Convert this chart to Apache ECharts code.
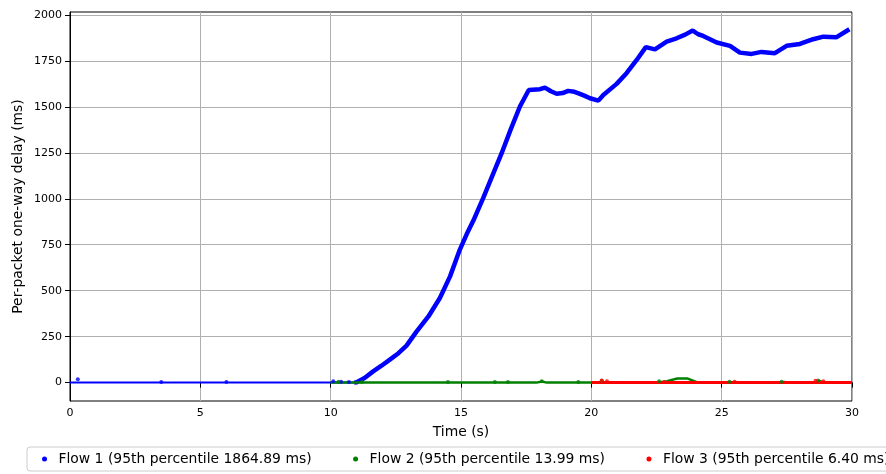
<!DOCTYPE html>
<html lang="en">
<head>
    <meta charset="UTF-8">
    <title>Per-packet one-way delay</title>
    <style>
        html, body { margin: 0; padding: 0; background: #fff; }
        #main { width: 886px; height: 474px; }
    </style>
    <script src="https://cdn.jsdelivr.net/npm/echarts@6/dist/echarts.min.js"></script>
</head>
<body>
<div id="main"></div>
<script type="text/javascript">
    // series names (legend text)
    var flowNames = [
        'Flow 1 (95th percentile 1864.89 ms)',
        'Flow 2 (95th percentile 13.99 ms)',
        'Flow 3 (95th percentile 6.40 ms)'
    ];
    var flowColors = ['#0000ff', '#008000', '#ff0000'];

    // flow 1: idle part, then the delay ramp  [time s, delay ms]
    var flow1Idle = [[0, 0], [10, 0], [10.9, 0]];
    var flow1Ramp = [
        [10.9, 0], [11.0, 2], [11.3, 25], [11.63, 61], [11.95, 92], [12.27, 125],
        [12.6, 160], [12.91, 201], [13.3, 279], [13.75, 360], [14.19, 460],
        [14.58, 578], [14.96, 725], [15.22, 808], [15.47, 880], [15.85, 1004],
        [16.2, 1125], [16.56, 1248], [16.9, 1375], [17.26, 1502], [17.6, 1592],
        [18.03, 1596], [18.22, 1605], [18.45, 1585], [18.67, 1571], [18.9, 1575],
        [19.11, 1587], [19.35, 1582], [19.56, 1571], [19.75, 1560], [19.95, 1547],
        [20.27, 1534], [20.46, 1565], [20.97, 1625], [21.35, 1683], [21.74, 1755],
        [22.09, 1825], [22.44, 1813], [22.89, 1855], [23.27, 1873], [23.6, 1893],
        [23.89, 1915], [24.1, 1895], [24.29, 1886], [24.81, 1850], [25.32, 1832],
        [25.7, 1795], [26.15, 1788], [26.53, 1799], [27.04, 1792], [27.49, 1832],
        [28.0, 1842], [28.51, 1868], [28.9, 1882], [29.41, 1879], [29.9, 1922]
    ];
    var flow1Dots = [[0.3, 18], [3.5, 4], [6.0, 4], [10.1, 8], [10.4, 5], [10.7, 4]];

    // flow 2
    var flow2Line = [
        [10, 0], [17.9, 0], [18.1, 6], [18.3, 0], [22.5, 0], [22.9, 8], [23.3, 22],
        [23.7, 22], [23.95, 8], [24.1, 0], [27.2, 0], [27.4, 4], [27.6, 0],
        [28.6, 0], [28.75, 10], [28.9, 0], [30, 0]
    ];
    var flow2Dots = [[10.3, 5], [11.2, 3], [14.5, 3], [16.3, 4], [16.8, 4], [18.1, 7],
        [19.5, 3], [20.4, 10], [22.6, 8], [25.3, 5], [27.3, 5], [28.7, 12]];

    // flow 3
    var flow3Line = [[20, 0], [30, 0]];
    var flow3Dots = [[20.4, 12], [20.6, 8], [22.8, 4], [25.5, 5], [28.6, 10], [28.9, 8]];

    var yTicks = [0, 250, 500, 750, 1000, 1250, 1500, 1750, 2000];

    var myChart = echarts.init(document.getElementById('main'));

    function lineSeries(name, color, data, width) {
        return {
            name: name, type: 'line', data: data, showSymbol: false,
            lineStyle: {color: color, width: width}, itemStyle: {color: color},
            z: 3
        };
    }
    function dotSeries(name, color, data) {
        return {
            name: name, type: 'scatter', data: data, symbolSize: 4,
            itemStyle: {color: color}, z: 4
        };
    }

    var option = {
        animation: false,
        textStyle: {fontFamily: 'DejaVu Sans'},
        grid: {
            left: 70, right: 34, top: 12, bottom: 73,
            show: true, borderColor: '#000', borderWidth: 1
        },
        legend: {
            left: 27, top: 447, width: 1100,
            padding: [5, 8, 5, 15],
            itemGap: 41.5, itemWidth: 18, itemHeight: 5,
            icon: 'circle',
            borderColor: '#ccc', borderWidth: 1, borderRadius: 3,
            textStyle: {fontSize: 13.9, color: '#000', fontFamily: 'DejaVu Sans'},
            data: flowNames
        },
        xAxis: {
            type: 'value', min: 0, max: 30, interval: 5,
            name: 'Time (s)', nameLocation: 'middle', nameGap: 24,
            nameMoveOverlap: false,
            nameTextStyle: {fontSize: 13.9, color: '#000'},
            axisLine: {lineStyle: {color: '#000'}},
            axisTick: {length: 5, lineStyle: {color: '#000'}},
            axisLabel: {fontSize: 11, color: '#000', margin: 7},
            splitLine: {show: true, lineStyle: {color: '#b0b0b0', width: 1}}
        },
        yAxis: {
            type: 'value', min: -100, max: 2016,
            name: 'Per-packet one-way delay (ms)', nameLocation: 'middle', nameGap: 45,
            nameMoveOverlap: false,
            nameTextStyle: {fontSize: 13.9, color: '#000'},
            axisLine: {show: true, lineStyle: {color: '#000'}},
            axisTick: {show: true, length: 5, customValues: yTicks, lineStyle: {color: '#000'}},
            axisLabel: {
                fontSize: 11, color: '#000', margin: 8, customValues: yTicks,
                formatter: function (v) { return String(v); }
            },
            splitLine: {show: true, lineStyle: {color: '#b0b0b0', width: 1}}
        },
        series: [
            lineSeries(flowNames[0], flowColors[0], flow1Idle, 2),
            lineSeries(flowNames[0], flowColors[0], flow1Ramp, 4.5),
            dotSeries(flowNames[0], flowColors[0], flow1Dots),
            lineSeries(flowNames[1], flowColors[1], flow2Line, 2.5),
            dotSeries(flowNames[1], flowColors[1], flow2Dots),
            lineSeries(flowNames[2], flowColors[2], flow3Line, 3),
            dotSeries(flowNames[2], flowColors[2], flow3Dots)
        ]
    };
    myChart.setOption(option);
</script>
</body>
</html>
